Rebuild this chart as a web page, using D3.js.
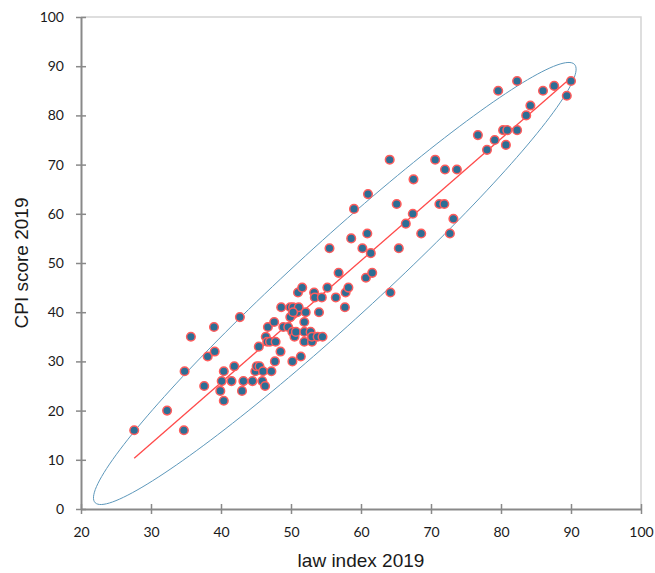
<!DOCTYPE html>
<html>
<head>
<meta charset="utf-8">
<script src="https://cdn.jsdelivr.net/npm/d3@7"></script>
<style>
  body { margin: 0; background: #fff; }
  svg { display: block; }
</style>
</head>
<body>
<div id="grafico"></div>
<script>
// valori: indice legge (x) e punteggio CPI (y)
var lawIndex = [
  27.6, 32.3, 34.7, 34.8, 35.7, 37.6, 38.1, 39.0, 39.1, 39.9,
  40.1, 40.4, 40.4, 41.9, 41.5, 42.7, 43.0, 43.2, 44.5, 44.9,
  45.1, 45.5, 45.4, 45.9, 46.0, 46.3, 46.4, 46.7, 46.6, 47.0,
  47.2, 47.6, 47.8, 47.7, 48.5, 48.6, 48.9, 49.6, 49.9, 49.9,
  50.3, 50.2, 50.2, 50.5, 50.7, 50.9, 51.1, 51.0, 51.6, 51.4,
  51.9, 51.9, 51.9, 52.1, 52.8, 53.0, 53.0, 53.3, 53.4, 53.8,
  54.0, 54.5, 54.4, 55.2, 56.4, 57.8, 58.2, 57.7, 64.2, 56.8,
  60.7, 61.6, 55.5, 60.2, 61.4, 65.4, 58.6, 60.9, 68.6, 72.7,
  66.4, 67.4, 73.2, 59.0, 61.0, 65.1, 71.2, 71.9, 67.5, 64.1,
  70.6, 72.0, 73.7, 76.7, 78.0, 79.1, 80.7, 80.3, 80.9, 82.3,
  83.6, 84.2, 79.6, 82.3, 86.0, 87.6, 89.4, 90.0, 50.3
];
var cpiScore = [
  16, 20, 16, 28, 35, 25, 31, 37, 32, 24,
  26, 28, 22, 29, 26, 39, 24, 26, 26, 28,
  29, 29, 33, 26, 28, 25, 35, 37, 34, 34,
  28, 38, 34, 30, 32, 41, 37, 37, 41, 39,
  41, 36, 30, 35, 36, 40, 41, 44, 45, 31,
  34, 36, 38, 40, 36, 34, 35, 44, 43, 35,
  40, 35, 43, 45, 43, 44, 45, 41, 44, 48,
  47, 48, 53, 53, 52, 53, 55, 56, 56, 56,
  58, 60, 59, 61, 64, 62, 62, 62, 67, 71,
  71, 69, 69, 76, 73, 75, 74, 77, 77, 77,
  80, 82, 85, 87, 85, 86, 84, 87, 40
];
var xTicks = [20, 30, 40, 50, 60, 70, 80, 90, 100];
var yTicks = [0, 10, 20, 30, 40, 50, 60, 70, 80, 90, 100];

var margin = {top: 17, right: 14, bottom: 64, left: 81};
var width = 655 - margin.left - margin.right;
var height = 573 - margin.top - margin.bottom;

var svg = d3.select("#grafico")
  .append("svg")
  .attr("width", 655)
  .attr("height", 573)
  .append("g")
  .attr("transform", "translate(" + margin.left + "," + margin.top + ")");

var x = d3.scaleLinear().domain([20, 100]).range([0, width]);
var y = d3.scaleLinear().domain([0, 100]).range([height, 0]);

var data = lawIndex.map(function(v, i) { return {x: v, y: cpiScore[i]}; });

// bordo superiore e destro chiaro
svg.append("path")
  .attr("d", "M0,0H" + width + "V" + height)
  .attr("fill", "none")
  .attr("stroke", "#d4d4d4")
  .attr("stroke-width", 1.5);

// asse X
var gx = svg.append("g")
  .attr("transform", "translate(0," + height + ")")
  .call(d3.axisBottom(x).tickValues(xTicks).tickSizeInner(5).tickSizeOuter(0).tickPadding(13));
gx.selectAll(".tick line").attr("y1", -5);

// asse Y
var gy = svg.append("g")
  .call(d3.axisLeft(y).tickValues(yTicks).tickSizeInner(5).tickSizeOuter(0).tickPadding(12));
gy.selectAll(".tick line").attr("x1", 5);

[gx, gy].forEach(function(g) {
  g.select(".domain").attr("stroke", "#898989").attr("stroke-width", 2);
  g.selectAll(".tick line").attr("stroke", "#898989").attr("stroke-width", 1.5);
  g.selectAll(".tick text")
    .attr("fill", "#1a1a1a")
    .style("font-family", "Lato, 'Open Sans', sans-serif")
    .style("font-size", "14px");
});

// titoli degli assi
svg.append("text")
  .attr("text-anchor", "middle")
  .attr("x", width / 2)
  .attr("y", height + 58)
  .style("font-family", "'Liberation Sans', Arial, sans-serif")
  .style("font-size", "19px")
  .attr("fill", "#1a1a1a")
  .text("law index 2019");

svg.append("text")
  .attr("text-anchor", "middle")
  .attr("transform", "rotate(-90)")
  .attr("x", -height / 2)
  .attr("y", -53)
  .style("font-family", "'Liberation Sans', Arial, sans-serif")
  .style("font-size", "19px")
  .attr("fill", "#1a1a1a")
  .text("CPI score 2019");

// ellisse calcolata dalla covarianza dei punti
var mx = d3.mean(data, function(d) { return d.x; });
var my = d3.mean(data, function(d) { return d.y; });
var sxx = d3.mean(data, function(d) { return (d.x - mx) * (d.x - mx); });
var syy = d3.mean(data, function(d) { return (d.y - my) * (d.y - my); });
var sxy = d3.mean(data, function(d) { return (d.x - mx) * (d.y - my); });
var tr = sxx + syy, det = sxx * syy - sxy * sxy;
var l1 = tr / 2 + Math.sqrt(tr * tr / 4 - det);
var l2 = tr / 2 - Math.sqrt(tr * tr / 4 - det);
var vx = sxy, vy = l1 - sxx, vn = Math.hypot(vx, vy);
vx /= vn; vy /= vn;
var kMaggiore = 2.45, kMinore = 2.0;
var ellisse = d3.range(0, 361, 2).map(function(a) {
  var t = a * Math.PI / 180;
  var u = kMaggiore * Math.sqrt(l1) * Math.cos(t), w = kMinore * Math.sqrt(l2) * Math.sin(t);
  return [mx + u * vx - w * vy, my + u * vy + w * vx];
});
svg.append("path")
  .datum(ellisse)
  .attr("fill", "none")
  .attr("stroke", "#5d98bb")
  .attr("stroke-width", 1)
  .attr("d", d3.line().x(function(d) { return x(d[0]); }).y(function(d) { return y(d[1]); }).curve(d3.curveLinearClosed));

// retta di regressione
var b = sxy / sxx, a = my - b * mx;
var xEst = d3.extent(data, function(d) { return d.x; });
svg.append("line")
  .attr("x1", x(xEst[0])).attr("y1", y(a + b * xEst[0]))
  .attr("x2", x(xEst[1])).attr("y2", y(a + b * xEst[1]))
  .attr("stroke", "#ff4a4a")
  .attr("stroke-width", 1.3);

// punti
svg.append("g")
  .selectAll("circle")
  .data(data)
  .enter()
  .append("circle")
  .attr("cx", function(d) { return x(d.x); })
  .attr("cy", function(d) { return y(d.y); })
  .attr("r", 4.3)
  .attr("fill", "#2d6e95")
  .attr("stroke", "#ff5c5c")
  .attr("stroke-width", 1.5);
</script>
</body>
</html>
